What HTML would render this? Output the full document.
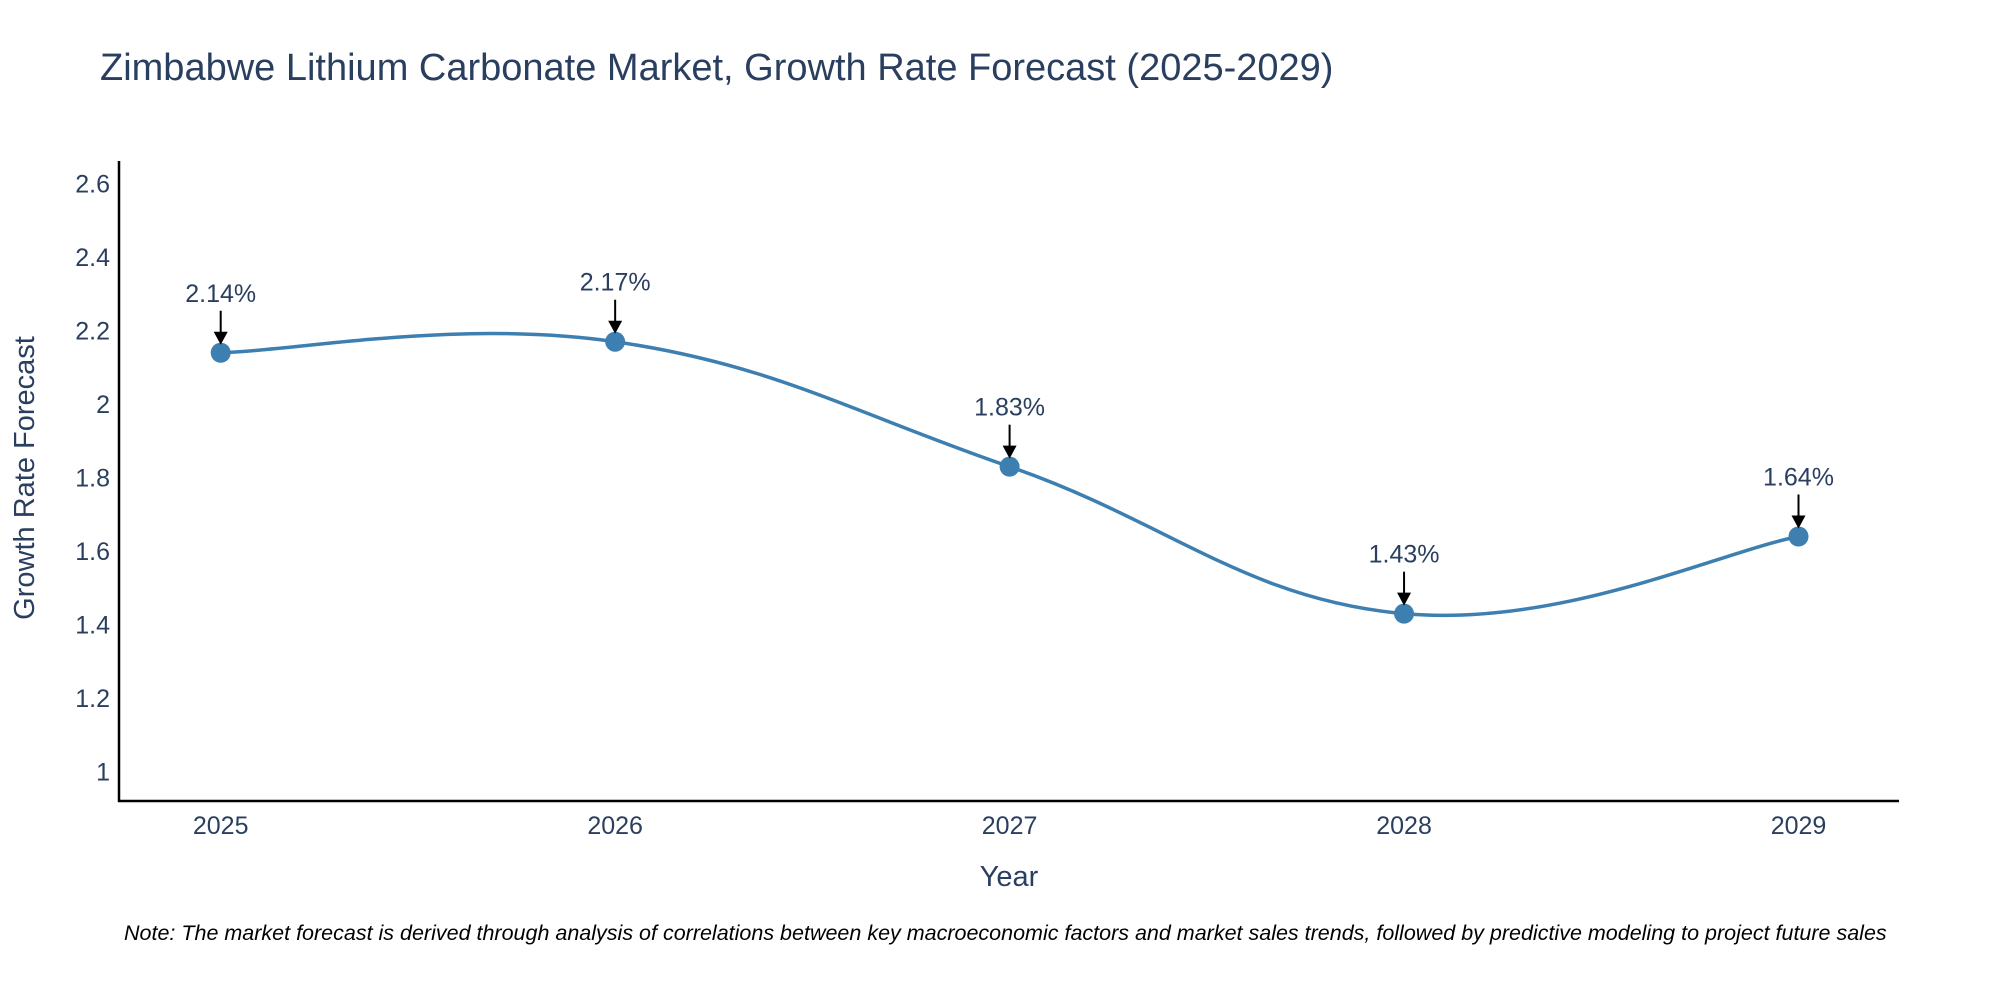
<!DOCTYPE html>
<html><head><meta charset="utf-8"><style>
body{margin:0;background:#fff;}
svg{display:block;font-family:"Liberation Sans",sans-serif;}
</style></head><body>
<svg id="chart" width="2000" height="1000">
<text x="100" y="80" font-size="38" fill="#2a3f5f">Zimbabwe Lithium Carbonate Market, Growth Rate Forecast (2025-2029)</text>
<g id="yticks"></g><g id="xticks"></g>
<line x1="119" y1="161" x2="119" y2="802" stroke="#000" stroke-width="2.5"/>
<line x1="118" y1="801" x2="1899" y2="801" stroke="#000" stroke-width="2.5"/>
<text transform="translate(34,478) rotate(-90)" text-anchor="middle" font-size="29" fill="#2a3f5f">Growth Rate Forecast</text>
<text x="1009" y="886" text-anchor="middle" font-size="29" fill="#2a3f5f">Year</text>
<g id="series"></g><g id="annots"></g>
<text x="124" y="940" font-size="21.5" font-style="italic" fill="#000">Note: The market forecast is derived through analysis of correlations between key macroeconomic factors and market sales trends, followed by predictive modeling to project future sales</text>
</svg>
<script>
const years=[2025,2026,2027,2028,2029];
const values=[2.14,2.17,1.83,1.43,1.64];
const yTicks=[1,1.2,1.4,1.6,1.8,2,2.2,2.4,2.6];
const yTickLabels=["1","1.2","1.4","1.6","1.8","2","2.2","2.4","2.6"];
const NS="http://www.w3.org/2000/svg";
const xS=v=>220.7+(v-2025)*(1798.5-220.7)/4;
const yS=v=>771.7-(v-1)*(771.7-183.7)/1.6;
function mk(t,a,p){const e=document.createElementNS(NS,t);for(const k in a)e.setAttribute(k,a[k]);p.appendChild(e);return e;}
const yt=document.getElementById('yticks');
yTicks.forEach((v,i)=>{const t=mk('text',{x:110,y:yS(v)+9,'text-anchor':'end','font-size':25,fill:'#2a3f5f'},yt);t.textContent=yTickLabels[i];

});
const xt=document.getElementById('xticks');
years.forEach(y=>{const t=mk('text',{x:xS(y),y:834,'text-anchor':'middle','font-size':25,fill:'#2a3f5f'},xt);t.textContent=y;

});
const pts=years.map((y,i)=>[xS(y),yS(values[i])]);
let d=`M${pts[0][0]},${pts[0][1]}`;const s=0.2;
for(let i=0;i<pts.length-1;i++){const p0=pts[i-1]||pts[i],p1=pts[i],p2=pts[i+1],p3=pts[i+2]||p2;
const c1=[p1[0]+(p2[0]-p0[0])*s,p1[1]+(p2[1]-p0[1])*s],c2=[p2[0]-(p3[0]-p1[0])*s,p2[1]-(p3[1]-p1[1])*s];
d+=` C${c1[0]},${c1[1]} ${c2[0]},${c2[1]} ${p2[0]},${p2[1]}`;}
const sg=document.getElementById('series');
const line=mk('path',{d:d,fill:'none',stroke:'#3d7fb1','stroke-width':3.5},sg);


const an=document.getElementById('annots');
pts.forEach((p,i)=>{const c=mk('circle',{cx:p[0],cy:p[1],r:10,fill:'#3d7fb1'},sg);


const l=mk('line',{x1:p[0],y1:p[1]-42,x2:p[0],y2:p[1]-20,stroke:'#000','stroke-width':2},an);


const h=mk('polygon',{points:`${p[0]-7},${p[1]-21} ${p[0]+7},${p[1]-21} ${p[0]},${p[1]-8}`,fill:'#000'},an);


const t=mk('text',{x:p[0],y:p[1]-51,'text-anchor':'middle','font-size':25,fill:'#2a3f5f'},an);t.textContent=values[i].toFixed(2)+'%';

});
</script>
</body></html>
